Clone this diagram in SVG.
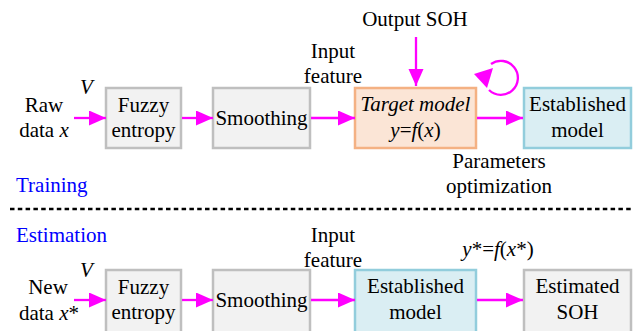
<svg xmlns="http://www.w3.org/2000/svg" width="640" height="331" viewBox="0 0 640 331">
<style>
text{font-family:'Liberation Serif',serif;font-size:21px;fill:#000}
.c{text-anchor:middle}
.i{font-style:italic}
.blue{fill:#0000FF}
.gray{fill:#F2F2F2;stroke:#BFBFBF;stroke-width:2.5}
.orange{fill:#FBE5D6;stroke:#F4B183;stroke-width:2.5}
.cyan{fill:#DAEEF3;stroke:#92CDDC;stroke-width:2.5}
.ar{stroke:#FF00FF;stroke-width:2.3;fill:none;marker-end:url(#ah)}
</style>
<defs>
<marker id="ah" markerUnits="userSpaceOnUse" markerWidth="18" markerHeight="16" refX="17" refY="7.5" orient="auto">
<path d="M0,0 L17,7.5 L0,15 z" fill="#FF00FF"/>
</marker>
</defs>
<rect width="640" height="331" fill="#fff"/>
<g font-family="Liberation Serif, serif" font-size="21">

<!-- Training row -->
<g id="raw">
<text class="c" x="44" y="112">Raw</text>
<text class="c" x="44" y="137">data <tspan class="i">x</tspan></text>
<text class="i" x="80" y="94">V</text>
</g>
<g id="fuzzy1">
<rect class="gray" x="106" y="88" width="75" height="60"/>
<text class="c" x="143.5" y="112">Fuzzy</text>
<text class="c" x="143.5" y="137">entropy</text>
</g>
<g id="smooth1">
<rect class="gray" x="213" y="88" width="97" height="60"/>
<text class="c" x="261.5" y="125">Smoothing</text>
</g>
<g id="input1">
<text class="c" x="333" y="58">Input</text>
<text class="c" x="333" y="83">feature</text>
</g>
<g id="outsoh">
<text class="c" x="415" y="26">Output SOH</text>
</g>
<g id="target">
<rect class="orange" x="355" y="88" width="121" height="60"/>
<text class="c i" x="415.5" y="111">Target model</text>
<text class="c" x="415.5" y="137"><tspan class="i">y</tspan>=<tspan class="i">f</tspan>(<tspan class="i">x</tspan>)</text>
</g>
<g id="est1">
<rect class="cyan" x="524" y="88" width="107" height="60"/>
<text class="c" x="577.5" y="111">Established</text>
<text class="c" x="577.5" y="137">model</text>
</g>
<g id="params">
<text class="c" x="499" y="168">Parameters</text>
<text class="c" x="499" y="193">optimization</text>
</g>
<text class="blue" x="16" y="192">Training</text>

<line x1="10" y1="209" x2="631" y2="209" stroke="#000" stroke-width="2.5" stroke-dasharray="4.5,3.3"/>

<!-- Estimation row -->
<text class="blue" x="16" y="242">Estimation</text>
<g id="new">
<text class="c" x="48" y="294">New</text>
<text class="c" x="49" y="320">data <tspan class="i">x</tspan>*</text>
<text class="i" x="80" y="277">V</text>
</g>
<g id="fuzzy2">
<rect class="gray" x="106" y="270" width="75" height="64"/>
<text class="c" x="143.5" y="294">Fuzzy</text>
<text class="c" x="143.5" y="319">entropy</text>
</g>
<g id="smooth2">
<rect class="gray" x="213" y="270" width="97" height="64"/>
<text class="c" x="261.5" y="307">Smoothing</text>
</g>
<g id="input2">
<text class="c" x="333" y="242">Input</text>
<text class="c" x="333" y="267">feature</text>
</g>
<g id="est2">
<rect class="cyan" x="355" y="270" width="121" height="64"/>
<text class="c" x="415.5" y="293">Established</text>
<text class="c" x="415.5" y="319">model</text>
</g>
<g id="yf">
<text class="c" x="498" y="256"><tspan class="i">y</tspan>*=<tspan class="i">f</tspan>(<tspan class="i">x</tspan>*)</text>
</g>
<g id="estsoh">
<rect class="gray" x="524" y="270" width="107" height="64"/>
<text class="c" x="577.5" y="293">Estimated</text>
<text class="c" x="577.5" y="319">SOH</text>
</g>
</g>

<g id="connectors">
<line class="ar" x1="74" y1="118" x2="106" y2="118"/>
<line class="ar" x1="182" y1="118" x2="213" y2="118"/>
<line class="ar" x1="311" y1="118" x2="355" y2="118"/>
<line class="ar" x1="477" y1="118" x2="523" y2="118"/>
<line class="ar" x1="416" y1="37" x2="416" y2="86"/>
<path d="M491,64 A17,17 0 1 1 489,90" stroke="#FF00FF" stroke-width="2.3" fill="none"/>
<path d="M474,74 L493,68 L487,88 z" fill="#FF00FF"/>
<line class="ar" x1="74" y1="300" x2="106" y2="300"/>
<line class="ar" x1="182" y1="300" x2="213" y2="300"/>
<line class="ar" x1="311" y1="300" x2="355" y2="300"/>
<line class="ar" x1="477" y1="300" x2="523" y2="300"/>
</g>
</svg>
